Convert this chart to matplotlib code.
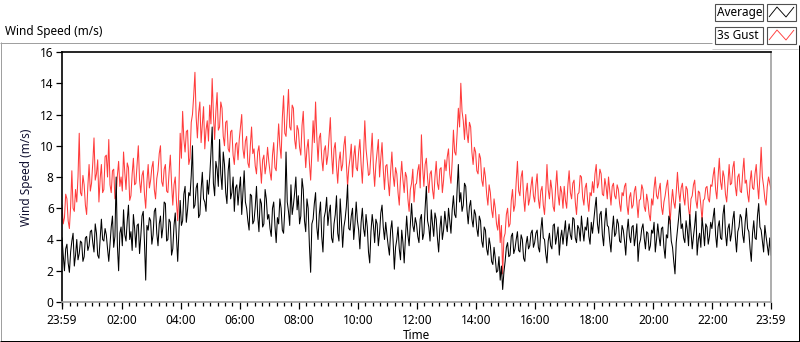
import matplotlib
matplotlib.use("Agg")
import matplotlib.pyplot as plt
from matplotlib.lines import Line2D
from matplotlib.patches import Rectangle
from matplotlib.transforms import Affine2D
from matplotlib.ticker import FixedLocator
import numpy as np

# ---- data (2.5-minute samples) ----
step_min = 2.5
average = [
    4.1, 3.0, 2.0, 3.4, 3.7, 2.5, 1.9, 3.2, 3.9, 4.4, 2.3, 3.0, 4.0, 2.7, 3.1, 3.9, 3.8, 2.6, 2.9, 4.1, 4.2, 3.3, 3.6, 4.5,
    4.6, 3.8, 3.2, 5.0, 4.4, 3.0, 2.8, 4.1, 5.3, 4.0, 3.9, 4.7, 4.3, 3.4, 2.6, 3.7, 4.8, 5.5, 3.5, 4.2, 8.0, 3.6, 2.0, 4.4,
    4.8, 3.6, 5.9, 4.3, 3.9, 5.2, 6.2, 4.0, 4.5, 3.3, 5.6, 4.7, 3.5, 4.9, 5.0, 3.1, 4.2, 5.5, 5.8, 3.8, 1.4, 4.9, 4.6, 5.4,
    5.2, 3.7, 4.3, 5.8, 6.0, 4.4, 3.6, 5.0, 5.5, 4.1, 4.8, 6.4, 6.3, 3.9, 4.0, 5.3, 5.1, 3.0, 3.4, 4.9, 5.7, 4.2, 2.6, 4.6,
    6.5, 4.9, 5.2, 6.9, 7.4, 5.1, 5.9, 7.0, 6.8, 8.1, 10.0, 6.0, 6.2, 7.3, 7.6, 5.4, 5.6, 7.2, 8.3, 6.6, 6.4, 5.8, 7.8, 6.9,
    8.0, 9.5, 11.2, 7.6, 6.8, 9.0, 8.5, 7.4, 10.4, 8.2, 7.2, 9.6, 8.8, 7.0, 6.3, 8.4, 9.2, 6.6, 7.0, 8.0, 5.8, 7.3, 7.5, 6.2,
    7.2, 8.0, 5.6, 7.0, 8.4, 6.4, 6.0, 5.2, 4.6, 6.9, 6.8, 5.0, 5.2, 6.1, 7.4, 5.5, 4.5, 6.6, 6.3, 4.8, 5.0, 7.2, 6.6, 5.3,
    5.6, 4.7, 4.2, 6.0, 6.4, 4.9, 3.8, 5.4, 5.0, 6.6, 6.0, 4.6, 4.4, 5.9, 9.6, 6.4, 5.8, 4.9, 7.5, 5.6, 6.2, 7.0, 8.0, 5.9,
    6.8, 5.0, 5.5, 7.9, 7.2, 5.2, 4.5, 6.6, 6.0, 3.6, 1.9, 5.0, 5.3, 6.3, 7.0, 4.8, 4.0, 5.6, 6.4, 4.2, 3.2, 5.4, 5.8, 6.7,
    4.9, 5.7, 6.2, 4.1, 3.8, 5.0, 5.6, 6.8, 4.4, 3.9, 6.6, 5.2, 3.5, 4.8, 5.3, 6.1, 7.5, 4.7, 4.6, 5.5, 6.0, 4.0, 5.0, 6.4,
    5.2, 4.6, 3.4, 5.1, 6.0, 4.7, 4.2, 5.6, 4.8, 3.2, 2.5, 4.5, 5.6, 4.9, 3.8, 5.3, 5.0, 3.6, 4.4, 5.7, 6.2, 4.8, 4.0, 5.1,
    4.3, 3.6, 3.0, 4.6, 5.2, 3.9, 2.1, 3.5, 4.0, 4.8, 3.4, 2.7, 4.6, 3.8, 2.5, 4.1, 5.5, 4.3, 3.6, 5.0, 6.3, 4.9, 4.5, 5.4,
    5.0, 4.2, 3.8, 5.3, 5.6, 4.0, 4.4, 6.0, 7.4, 5.2, 4.8, 3.9, 5.9, 5.0, 4.2, 5.7, 5.3, 4.1, 3.2, 4.7, 5.5, 4.0, 4.6, 5.8,
    5.0, 4.5, 6.0, 5.2, 4.4, 5.9, 6.8, 5.6, 5.4, 7.2, 8.8, 6.4, 7.0, 5.8, 6.2, 7.6, 7.4, 5.9, 5.0, 6.1, 6.5, 5.3, 4.8, 5.9,
    5.6, 4.7, 4.2, 5.5, 5.2, 3.9, 3.5, 4.8, 4.6, 3.4, 3.0, 4.1, 3.6, 2.6, 2.4, 3.5, 2.8, 1.9, 2.0, 2.9, 1.4, 2.3, 0.8, 1.9,
    2.6, 3.5, 3.8, 2.9, 3.0, 4.2, 4.4, 3.1, 3.4, 4.0, 4.5, 3.3, 3.2, 4.3, 4.0, 2.8, 2.6, 3.7, 4.2, 3.4, 3.6, 4.4, 4.6, 3.5,
    3.8, 4.4, 4.6, 3.5, 3.2, 4.6, 5.4, 4.1, 4.0, 3.1, 2.5, 3.9, 4.4, 3.6, 3.4, 4.9, 5.0, 3.7, 4.2, 4.8, 3.0, 4.1, 4.6, 3.7,
    4.5, 5.2, 3.6, 4.4, 5.0, 4.3, 4.0, 5.4, 5.3, 4.1, 3.8, 4.9, 4.7, 3.9, 5.5, 4.6, 3.9, 4.8, 4.6, 5.4, 4.2, 3.7, 5.1, 4.4,
    5.2, 6.0, 6.7, 5.0, 4.4, 5.6, 5.8, 4.3, 3.6, 5.1, 6.0, 4.9, 4.8, 3.9, 3.2, 4.6, 5.5, 4.2, 4.4, 5.3, 5.0, 3.9, 3.8, 4.9,
    4.6, 3.9, 3.0, 4.5, 5.3, 4.2, 3.8, 4.8, 4.9, 3.6, 4.2, 5.0, 2.6, 3.7, 4.0, 4.7, 5.0, 4.1, 3.4, 4.5, 4.4, 3.3, 3.6, 4.6,
    4.4, 5.1, 3.2, 4.0, 5.0, 4.2, 3.6, 4.7, 4.8, 3.5, 2.8, 4.3, 4.1, 5.5, 5.2, 3.9, 3.5, 2.6, 1.8, 3.8, 4.6, 5.4, 6.3, 4.7,
    5.0, 4.1, 3.8, 5.2, 4.6, 3.6, 5.6, 4.5, 3.4, 4.2, 4.9, 5.8, 3.0, 4.0, 4.4, 3.5, 5.4, 4.6, 3.6, 5.0, 4.8, 3.7, 4.2, 5.1,
    4.7, 5.4, 6.0, 4.3, 3.5, 4.8, 5.2, 4.1, 4.0, 5.6, 6.2, 4.4, 3.6, 4.7, 5.0, 3.9, 4.4, 5.3, 5.8, 4.2, 3.2, 4.5, 4.8, 5.6,
    5.4, 4.3, 3.8, 5.1, 6.0, 4.7, 4.5, 3.4, 2.6, 4.4, 5.2, 4.1, 4.0, 5.5, 6.3, 4.8, 4.6, 3.9, 3.2, 4.9, 4.2, 3.6, 3.0, 4.1,
    3.0,
]
gust_3s = [
    6.2, 5.0, 5.4, 6.9, 6.6, 5.2, 4.7, 6.1, 8.4, 6.0, 5.8, 7.2, 6.4, 8.0, 10.8, 7.0, 6.8, 8.1, 7.5, 6.2, 5.6, 7.4, 8.8, 7.1,
    7.6, 8.9, 10.5, 7.8, 8.2, 9.1, 6.4, 7.9, 8.8, 7.0, 7.2, 9.3, 9.4, 8.0, 10.4, 7.5, 7.0, 8.4, 8.5, 6.6, 6.8, 8.1, 9.0, 7.4,
    8.0, 7.1, 9.6, 8.3, 7.2, 8.9, 8.6, 6.5, 6.8, 8.2, 9.2, 7.5, 7.6, 8.8, 10.0, 7.8, 7.0, 8.1, 8.4, 6.9, 6.0, 7.7, 8.8, 7.3,
    7.8, 8.6, 9.0, 7.2, 6.6, 7.9, 8.4, 9.5, 10.0, 7.7, 7.4, 8.5, 8.8, 7.1, 7.0, 8.3, 9.4, 7.6, 6.2, 7.5, 8.0, 6.4, 5.2, 7.3,
    10.8, 9.2, 12.2, 10.4, 9.6, 10.9, 11.0, 8.8, 9.2, 11.5, 12.0, 13.2, 14.7, 11.8, 10.5, 12.1, 12.8, 10.2, 11.4, 12.5, 9.8, 11.0, 11.6, 10.3,
    12.6, 11.4, 14.3, 12.0, 10.4, 12.2, 13.4, 11.0, 11.2, 12.8, 12.4, 10.6, 10.0, 11.5, 11.6, 9.8, 9.6, 10.9, 11.0, 9.4, 8.8, 10.1, 10.2, 9.1,
    10.4, 11.2, 12.0, 9.8, 9.2, 10.3, 10.6, 8.9, 8.6, 10.0, 11.2, 9.5, 9.8, 8.7, 8.2, 9.6, 10.0, 8.8, 7.6, 9.1, 9.4, 8.2, 8.8, 9.9,
    9.0, 8.3, 7.8, 9.4, 10.2, 8.6, 8.4, 9.9, 11.4, 10.0, 9.2, 11.8, 13.2, 10.8, 10.6, 12.0, 13.6, 11.2, 11.0, 12.6, 12.4, 10.4, 9.8, 11.3,
    11.0, 9.9, 9.4, 11.3, 12.2, 10.1, 8.6, 9.8, 10.4, 8.9, 7.8, 9.6, 11.6, 10.2, 12.8, 10.6, 9.0, 10.5, 10.8, 9.2, 8.4, 9.7, 10.0, 8.8,
    9.4, 10.6, 11.8, 9.5, 8.2, 9.8, 10.2, 8.7, 7.6, 9.0, 9.6, 8.4, 8.8, 10.0, 10.6, 8.9, 7.4, 8.6, 9.2, 10.1, 8.0, 9.3, 10.0, 8.6,
    8.4, 9.6, 10.4, 8.8, 7.6, 9.4, 11.6, 9.8, 9.0, 8.1, 8.2, 9.5, 10.8, 8.6, 7.4, 8.8, 9.6, 10.4, 8.0, 9.2, 10.2, 8.5, 7.2, 8.7,
    8.8, 7.7, 6.8, 8.4, 9.6, 8.1, 7.4, 8.6, 8.2, 7.0, 6.2, 7.9, 9.0, 7.8, 7.0, 8.3, 8.0, 6.6, 5.8, 7.2, 7.6, 8.5, 6.4, 7.5,
    7.6, 8.4, 8.8, 7.3, 10.7, 8.6, 7.4, 8.8, 9.2, 7.9, 7.0, 8.2, 8.4, 7.2, 6.6, 8.0, 9.0, 7.6, 7.2, 8.5, 8.6, 7.0, 7.8, 9.1,
    8.4, 9.3, 9.8, 8.2, 7.6, 9.0, 11.0, 9.6, 9.4, 10.8, 12.4, 11.2, 14.0, 12.2, 11.6, 10.4, 12.0, 10.8, 10.2, 11.5, 11.2, 9.6, 8.8, 9.9,
    9.6, 8.4, 8.2, 9.5, 9.2, 7.8, 7.4, 8.6, 8.0, 6.9, 6.2, 7.5, 7.0, 5.9, 5.4, 6.6, 6.0, 5.0, 4.6, 5.6, 3.8, 4.9, 1.8, 4.1,
    4.4, 5.6, 6.0, 4.8, 5.0, 6.5, 7.2, 5.8, 6.2, 7.7, 9.0, 7.1, 6.8, 8.0, 8.4, 6.7, 5.8, 7.0, 7.6, 6.2, 6.6, 7.4, 8.0, 6.8,
    6.4, 7.5, 8.2, 6.6, 6.0, 7.1, 7.4, 6.2, 5.6, 7.0, 8.8, 7.2, 6.6, 7.8, 7.2, 6.1, 5.8, 7.3, 8.4, 6.9, 6.2, 7.4, 7.0, 6.0,
    7.4, 6.5, 6.0, 7.5, 8.4, 7.0, 6.6, 7.6, 7.8, 6.4, 5.6, 6.9, 7.0, 8.1, 8.0, 6.7, 6.2, 7.3, 7.6, 6.5, 5.8, 7.0, 6.8, 7.7,
    7.0, 8.2, 8.8, 7.3, 7.6, 8.5, 8.2, 6.9, 6.8, 7.9, 7.4, 6.6, 8.0, 7.1, 6.2, 7.4, 7.6, 6.8, 6.6, 7.5, 7.2, 6.3, 5.8, 7.0,
    6.8, 7.4, 7.6, 6.2, 5.6, 6.7, 7.0, 6.0, 6.2, 7.1, 7.4, 6.4, 5.4, 6.5, 6.6, 7.5, 7.2, 6.1, 5.8, 6.9, 6.4, 5.6, 5.2, 6.6,
    6.2, 7.3, 8.0, 6.8, 6.6, 7.2, 7.6, 6.1, 5.6, 6.4, 6.8, 7.4, 7.8, 6.6, 5.0, 6.3, 7.2, 6.4, 6.0, 7.0, 8.3, 7.1, 6.4, 7.3,
    7.6, 6.7, 6.2, 7.4, 7.2, 6.0, 5.4, 6.6, 6.8, 7.5, 7.8, 6.5, 6.0, 7.1, 7.0, 6.2, 5.2, 6.5, 6.6, 7.3, 7.4, 6.6, 6.4, 7.5,
    7.4, 8.1, 8.6, 7.2, 6.6, 8.0, 9.2, 7.7, 7.2, 8.4, 8.0, 6.9, 6.4, 7.6, 8.8, 7.5, 7.6, 8.6, 9.0, 7.4, 6.8, 8.0, 8.2, 7.1,
    7.0, 8.3, 9.2, 7.6, 7.8, 6.9, 6.4, 7.7, 8.4, 7.3, 7.2, 8.2, 8.8, 7.5, 6.6, 8.1, 9.9, 8.0, 7.4, 6.6, 6.2, 7.4, 8.0, 7.6,
    7.2,
]
tick_minutes = [0, 121, 241, 361, 481, 601, 721, 841, 961, 1081, 1201, 1321, 1440]
tick_labels = ["23:59", "02:00", "04:00", "06:00", "08:00", "10:00", "12:00",
               "14:00", "16:00", "18:00", "20:00", "22:00", "23:59"]
y_ticks = [0, 2, 4, 6, 8, 10, 12, 14, 16]
series_names = ["Average", "3s Gust"]

# ---- figure ----
W, H = 800, 342
fig = plt.figure(figsize=(W / 100, H / 100), dpi=100)
fig.patch.set_facecolor("white")
FONT = ["Noto Sans", "DejaVu Sans"]
plt.rcParams["font.family"] = FONT
FS = 8.5

px = Affine2D().scale(1 / W, -1 / H).translate(0, 1) + fig.transFigure

def pline(xs, ys, color, lw=1.0):
    fig.add_artist(Line2D(xs, ys, transform=px, color=color, lw=lw * 0.72,
                          solid_capstyle="butt"))

L, R, T, B = 62, 771, 52, 302
ax = fig.add_axes([L / W, 1 - B / H, (R - L) / W, (B - T) / H])

t = np.arange(len(average)) * step_min
ax.plot(t, gust_3s, color="#ff3c3c", lw=0.75)
ax.plot(t, average, color="black", lw=0.75)

ax.set_xlim(0, 1440)
ax.set_ylim(0, 16)
ax.set_yticks(y_ticks)
ax.set_xticks(tick_minutes)
ax.set_xticklabels(tick_labels)
ax.xaxis.set_minor_locator(FixedLocator([m for m in range(1, 1440, 15)] + [0]))
ax.tick_params(axis="x", which="major", direction="out", length=5, width=0.9,
               pad=4, labelsize=FS, colors="black")
ax.tick_params(axis="x", which="minor", direction="out", length=3, width=0.9)
ax.tick_params(axis="y", which="major", direction="out", length=4, width=0.9,
               pad=2, labelsize=FS, colors="black")
for s in ("top", "left"):
    ax.spines[s].set_color("black")
    ax.spines[s].set_linewidth(1.2)
for s in ("right", "bottom"):
    ax.spines[s].set_color("#a0a0a0")
    ax.spines[s].set_linewidth(1.2)
ax.set_xlabel("Time", fontsize=FS, labelpad=1)
ax.set_ylabel("Wind Speed (m/s)", fontsize=FS, labelpad=5, color="#101030")

# outer frame
pline([0, 712], [42.5, 42.5], "#a0a0a0")
pline([0.5, 0.5], [42, 341], "#a0a0a0")
pline([0, 800], [340.5, 340.5], "black")
pline([798.5, 798.5], [45, 341], "black")
pline([712, 798], [48.5, 48.5], "#d0d0d0")

fig.text(5 / W, 1 - 32 / H, "Wind Speed (m/s)", fontsize=FS, va="center", ha="left")

# legend
legend_colors = ["black", "#ff3c3c"]
for i, (name, col) in enumerate(zip(series_names, legend_colors)):
    y0 = 4 + i * 23
    fig.add_artist(Rectangle((715, y0), 48, 17, transform=px, facecolor="white",
                             edgecolor="#505050", lw=0.8))
    fig.text(717 / W, 1 - (y0 + 8.5) / H, name, fontsize=FS, va="center", ha="left")
    fig.add_artist(Rectangle((767, y0), 29, 17, transform=px, facecolor="white",
                             edgecolor="#505050", lw=0.8))
    pline([769, 777, 786, 794], [y0 + 13, y0 + 3, y0 + 13, y0 + 3], col, lw=0.9)

fig.savefig("out.png", dpi=100)
